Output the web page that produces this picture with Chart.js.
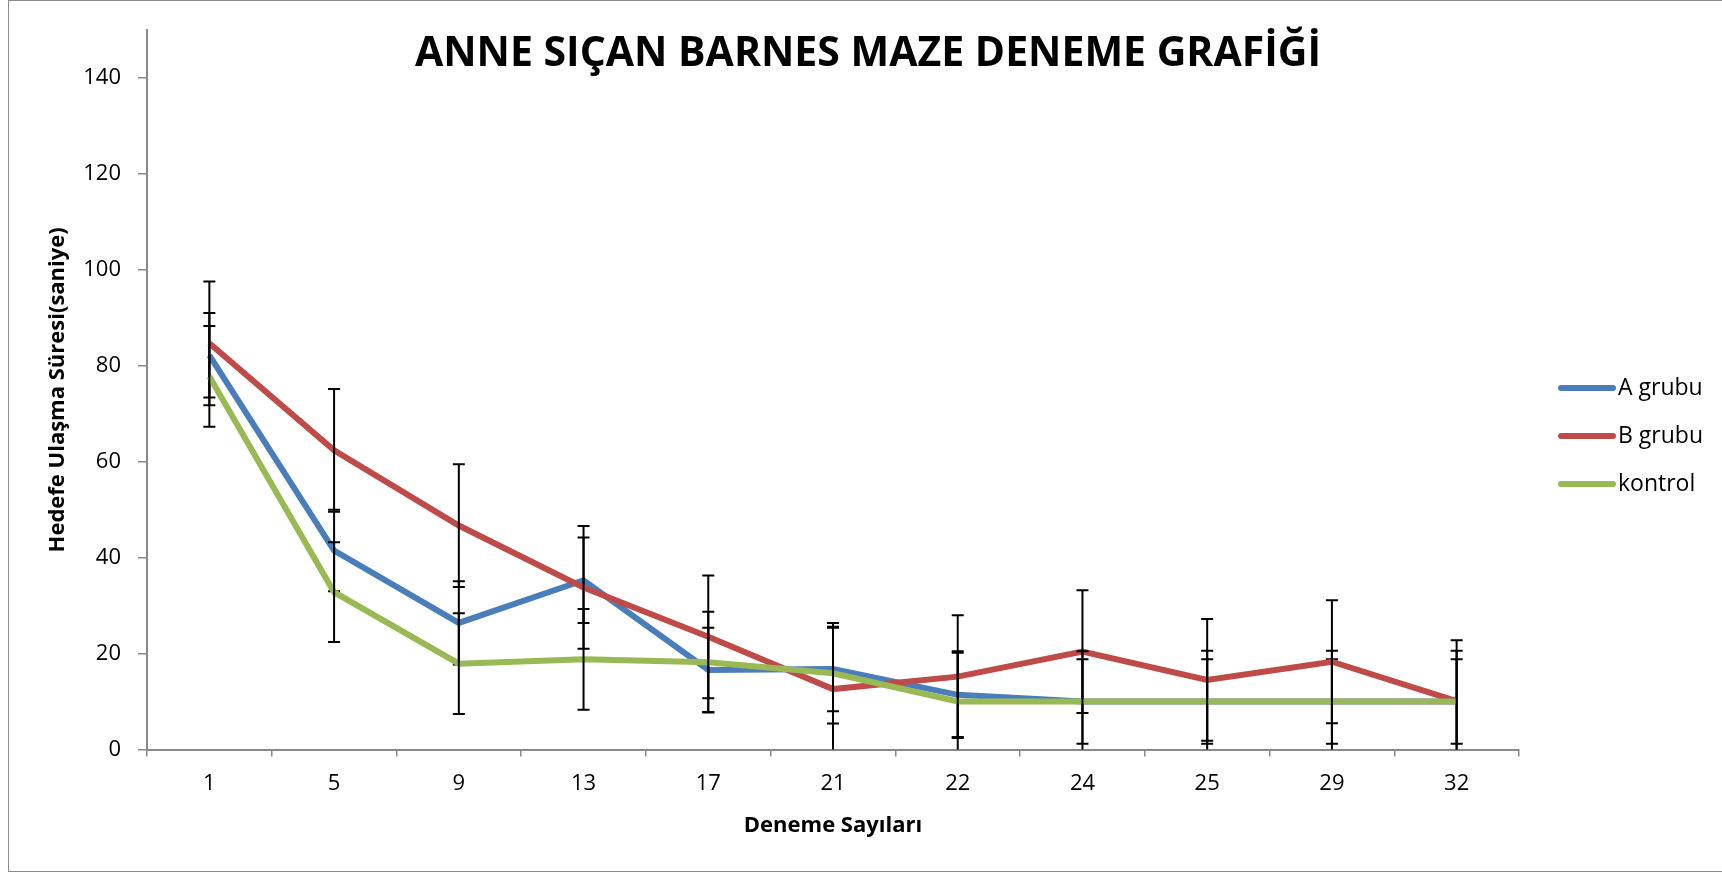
<!DOCTYPE html>
<html>
<head>
<meta charset="utf-8">
<script src="https://cdn.jsdelivr.net/npm/chart.js@4"></script>
<style>
  body { margin: 0; background: #fff; }
  #wrap { position: relative; width: 1722px; height: 872px; }
  #frame { position: absolute; left: 8px; top: 0; width: 1720px; height: 870px; border: 1px solid #8c8c8c; }
  canvas { position: absolute; left: 0; top: 0; }
</style>
</head>
<body>
<div id="wrap">
  <div id="frame"></div>
  <canvas id="myChart" width="1722" height="872"></canvas>
</div>
<script>
var titleText = 'ANNE SIÇAN BARNES MAZE DENEME GRAFİĞİ';
var xTitle = 'Deneme Sayıları';
var yTitle = 'Hedefe Ulaşma Süresi(saniye)';

var categories = ['1', '5', '9', '13', '17', '21', '22', '24', '25', '29', '32'];
var yTicks = [0, 20, 40, 60, 80, 100, 120, 140];

var seriesNames = ['A grubu', 'B grubu', 'kontrol'];
var aValues = [82.2, 41.5, 26.4, 35.3, 16.6, 16.8, 11.4, 10, 10, 10, 10];
var bValues = [84.7, 62.4, 46.7, 33.8, 23.5, 12.6, 15.2, 20.4, 14.5, 18.3, 10.1];
var kValues = [77.8, 32.8, 17.9, 18.8, 18.2, 15.9, 10, 10, 10, 10, 10];

// +/- error per point
var aErrors = [8.8, 8.5, 8.7, 8.9, 8.8, 8.8, 8.8, 8.8, 8.8, 8.8, 8.8];
var bErrors = [12.9, 12.8, 12.8, 12.8, 12.8, 12.8, 12.8, 12.8, 12.7, 12.8, 12.7];
var kErrors = [10.5, 10.4, 10.5, 10.5, 10.5, 10.5, 10.5, 10.5, 10.6, 10.6, 10.6];

var colors = ['#4a7ebb', '#be4b48', '#98b954'];
var axisColor = '#898989';

var errorBars = {
  id: 'errorBars',
  afterDatasetDraw: function(chart, args) {
    var ds = chart.data.datasets[args.index];
    var x = chart.scales.x, y = chart.scales.y;
    var area = chart.chartArea;
    var c = chart.ctx;
    c.save();
    c.strokeStyle = '#000';
    c.lineWidth = 2;
    ds.data.forEach(function(v, i) {
      var e = ds.errors[i];
      var px = x.getPixelForValue(i);
      var top = y.getPixelForValue(v + e);
      var lo = v - e;
      var bot = lo < 0 ? area.bottom : y.getPixelForValue(lo);
      c.beginPath();
      c.moveTo(px, top); c.lineTo(px, bot);
      c.moveTo(px - 6, top); c.lineTo(px + 6, top);
      if (lo >= 0) { c.moveTo(px - 6, bot); c.lineTo(px + 6, bot); }
      c.stroke();
    });
    c.restore();
  }
};

var extras = {
  id: 'extras',
  afterDraw: function(chart) {
    var c = chart.ctx;
    c.save();
    c.fillStyle = '#000';
    c.font = 'bold 41px "Open Sans"';
    c.textAlign = 'center';
    c.textBaseline = 'alphabetic';
    c.fillText(titleText, 868, 66);

    c.font = '23px "Open Sans"';
    c.textAlign = 'left';
    c.textBaseline = 'middle';
    c.lineCap = 'round';
    c.lineWidth = 6;
    chart.data.datasets.forEach(function(ds, i) {
      var ly = 388 + i * 48;
      c.strokeStyle = ds.borderColor;
      c.beginPath();
      c.moveTo(1561, ly); c.lineTo(1613, ly);
      c.stroke();
      c.fillText(ds.label, 1618, ly);
    });
    c.restore();
  }
};

var ctx = document.getElementById('myChart').getContext('2d');
var myChart = new Chart(ctx, {
  type: 'line',
  data: {
    labels: categories,
    datasets: [
      { label: seriesNames[0], data: aValues, errors: aErrors, borderColor: colors[0], order: 2 },
      { label: seriesNames[1], data: bValues, errors: bErrors, borderColor: colors[1], order: 1 },
      { label: seriesNames[2], data: kValues, errors: kErrors, borderColor: colors[2], order: 0 }
    ]
  },
  options: {
    responsive: false,
    animation: false,
    layout: { padding: { left: 40, top: 30, right: 203, bottom: 0 } },
    elements: {
      line: { borderWidth: 6, tension: 0, fill: false },
      point: { radius: 0, hoverRadius: 0 }
    },
    plugins: {
      legend: { display: false },
      title: { display: false },
      tooltip: { enabled: false }
    },
    scales: {
      x: {
        offset: true,
        grid: { offset: true, drawOnChartArea: false, tickLength: 7, color: axisColor, lineWidth: 1.5 },
        border: { color: axisColor, width: 2 },
        ticks: { color: '#000', font: { family: 'Open Sans', size: 22 }, padding: 14, maxRotation: 0 },
        title: { display: true, text: xTitle, color: '#000', font: { family: 'Open Sans', size: 22, weight: 'bold' }, padding: { top: 0, bottom: 33 } },
        afterFit: function(scale) { scale.height = 122.5; }
      },
      y: {
        min: 0,
        max: 150,
        afterBuildTicks: function(scale) {
          scale.ticks = yTicks.map(function(v) { return { value: v }; });
        },
        grid: { drawOnChartArea: false, tickLength: 9, color: axisColor, lineWidth: 1.5 },
        border: { color: axisColor, width: 2 },
        ticks: { color: '#000', font: { family: 'Open Sans', size: 22 }, padding: 17 },
        title: { display: true, text: yTitle, color: '#000', font: { family: 'Open Sans', size: 22, weight: 'bold' }, padding: { top: 5, bottom: 0 } },
        afterFit: function(scale) { scale.width = 107; }
      }
    }
  },
  plugins: [errorBars, extras]
});
</script>
</body>
</html>
